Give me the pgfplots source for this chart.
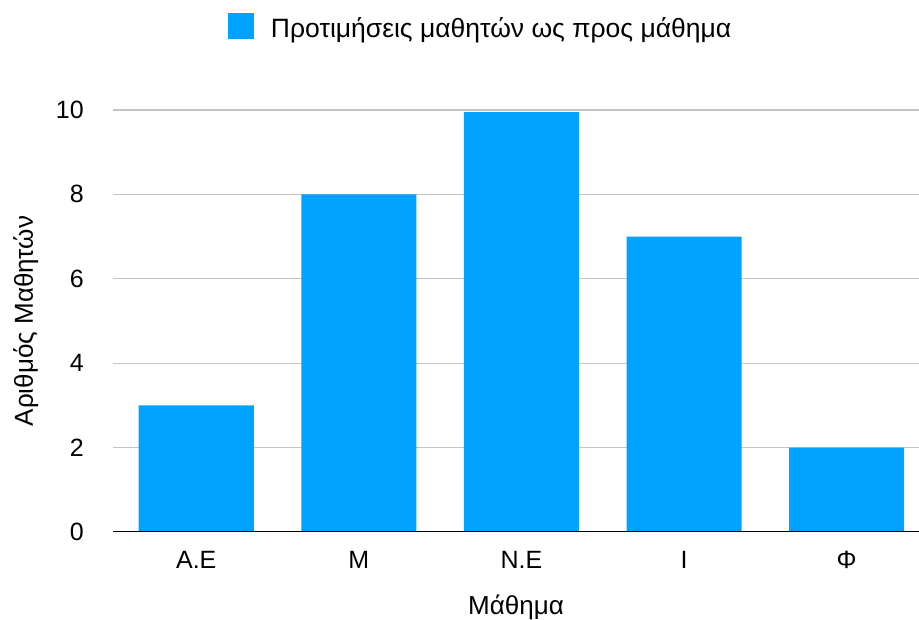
\documentclass[border=0pt]{standalone}
\usepackage{fontspec}
\setmainfont{Liberation Sans}
\usepackage{pgfplots}
\pgfplotsset{compat=1.18}
\definecolor{barblue}{HTML}{00A2FF}
\definecolor{gridgray}{HTML}{C4C4C4}
\begin{document}
\begin{tikzpicture}
\useasboundingbox (-113pt,-88pt) rectangle (806pt,532pt);
\begin{axis}[
  at={(0pt,0pt)}, anchor=south west,
  scale only axis, width=806pt, height=422pt,
  xmin=-0.512, xmax=4.445, ymin=0, ymax=10,
  ytick={2,4,...,10},
  extra y ticks={0},
  extra y tick style={grid=none},
  xtick={0,1,2,3,4},
  xticklabels={Α.Ε,Μ,Ν.Ε,Ι,Φ},
  major tick length=0pt,
  axis line style={draw=none},
  ymajorgrids,
  grid style={gridgray, line width=1.2pt},
  /pgf/number format/assume math mode=true,
  tick label style={font=\fontsize{25}{30}\selectfont},
  yticklabel style={anchor=east, inner sep=0pt, xshift=-29pt},
  xticklabel style={anchor=base, inner sep=0pt, yshift=-37pt},
  label style={font=\fontsize{26}{31}\selectfont},
  xlabel={Μάθημα},
  xlabel style={at={(axis description cs:0.5,-0.19668)}, anchor=base, inner sep=0pt},
  ylabel={Αριθμός Μαθητών},
  ylabel style={at={(axis description cs:-0.09926,0.5)}, anchor=base, inner sep=0pt},
  legend style={at={(axis description cs:0.14268,1.2299)}, anchor=north west,
    draw=none, fill=none, inner sep=0pt, outer sep=0pt,
    font=\fontsize{26.5}{31}\selectfont,
    nodes={inner sep=0pt}, column sep=0pt},
  ybar, bar width=115pt,
]
\addplot[draw=none, fill=barblue,
  legend image code/.code={\fill[barblue] (0pt,-11pt) rectangle (26pt,15pt); \path (43pt,0pt);}]
  coordinates {(0,3) (1,8) (2,9.95) (3,7) (4,2)};
\addlegendentry{Προτιμήσεις μαθητών ως προς μάθημα}
\draw[black, line width=2.2pt] (rel axis cs:0,0) -- (rel axis cs:1,0);
\end{axis}
\end{tikzpicture}
\end{document}
